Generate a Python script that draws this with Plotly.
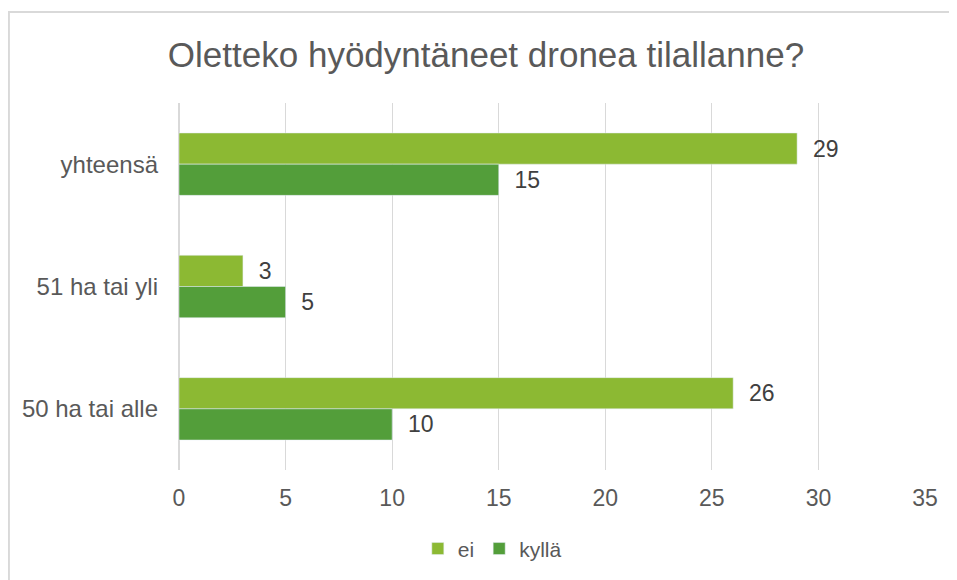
import plotly.graph_objects as go

# Kategoriat ja arvot
categories = ['yhteensä', '51 ha tai yli', '50 ha tai alle']
ei_values = [29, 3, 26]
kylla_values = [15, 5, 10]
x_ticks = [0, 5, 10, 15, 20, 25, 30, 35]

text_color = '#595959'
grid_color = '#d9d9d9'
label_template = '\u00a0\u00a0%{x}'  # pieni väli palkin ja arvon väliin

fig = go.Figure()
fig.add_trace(go.Bar(y=categories, x=ei_values, name='ei', orientation='h',
                     marker_color='#8cb933', texttemplate=label_template, textposition='outside',
                     textfont=dict(size=23, color='#404040'), cliponaxis=False))
fig.add_trace(go.Bar(y=categories, x=kylla_values, name='kyllä', orientation='h',
                     marker_color='#539e3a', texttemplate=label_template, textposition='outside',
                     textfont=dict(size=23, color='#404040'), cliponaxis=False))

fig.update_layout(
    width=957, height=580,
    paper_bgcolor='white', plot_bgcolor='white',
    font=dict(family='Liberation Sans, Arial, sans-serif', color=text_color),
    title=dict(text='Oletteko hyödyntäneet dronea tilallanne?',
               x=0.4995, xanchor='center', y=0.919, yanchor='middle',
               font=dict(size=35, color=text_color)),
    margin=dict(l=171, r=40, t=95, b=118, autoexpand=False),
    barmode='group', bargap=0.49, bargroupgap=0,
    showlegend=True,
    legend=dict(orientation='h', x=0.42, xanchor='center', y=-0.215, yanchor='middle',
                itemwidth=30, font=dict(size=21, color=text_color)),
    xaxis=dict(range=[0, 35], tickvals=x_ticks, showgrid=True, gridcolor=grid_color,
               gridwidth=1, zeroline=True, zerolinecolor=grid_color, automargin=False,
               tickfont=dict(size=23, color=text_color), ticklabelstandoff=12),
    yaxis=dict(autorange='reversed', showgrid=False, automargin=False,
               tickfont=dict(size=24, color=text_color), ticklabelstandoff=20),
)

# Kaavion reunus
fig.add_shape(type='rect', xref='paper', yref='paper',
              x0=-0.228, x1=1.2, y0=-0.5, y1=1.248,
              line=dict(color=grid_color, width=2), layer='below')

fig.write_html('out.html')
